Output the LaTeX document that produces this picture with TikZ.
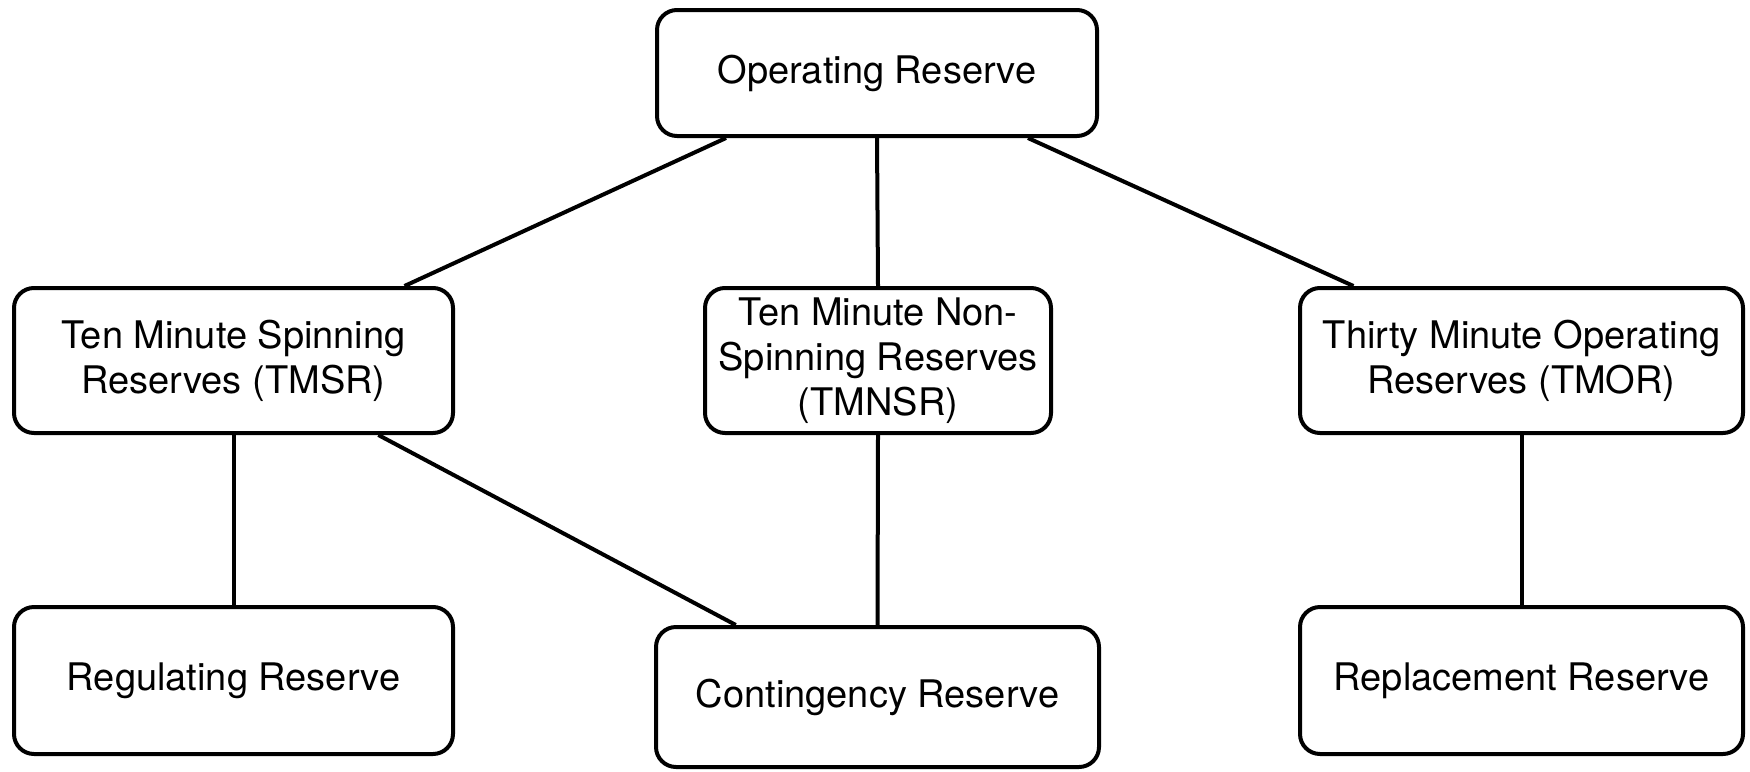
\documentclass[tikz,border=0pt]{standalone}
\usepackage{fontspec}
\setmainfont{TeX Gyre Heros}
\usetikzlibrary{calc}
\begin{document}
\begin{tikzpicture}[x=0.5pt,y=-0.5pt,
  box/.style={draw=black, line width=2pt, rounded corners=10pt, fill=white,
    align=center, inner sep=0pt,
    font=\fontsize{19pt}{22.5pt}\selectfont},
  link/.style={draw=black, line width=2pt}]
\useasboundingbox (0,0) rectangle (1750,771);
\node[box, minimum width=220pt, minimum height=63pt] (or) at (877,73) {Operating Reserve};
\node[box, minimum width=219.5pt, minimum height=72.5pt] (tmsr) at (233.5,360.5) {Ten Minute Spinning\\Reserves (TMSR)};
\node[box, minimum width=173pt, minimum height=72.5pt] (tmnsr) at (878,360.5) {Ten Minute Non-\\Spinning Reserves\\(TMNSR)};
\node[box, minimum width=221.5pt, minimum height=72.5pt] (tmor) at (1521.5,360.5) {Thirty Minute Operating\\Reserves (TMOR)};
\node[box, minimum width=219.5pt, minimum height=73.5pt] (reg) at (233.5,680.5) {Regulating Reserve};
\node[box, minimum width=221.5pt, minimum height=70pt] (cont) at (877.5,697) {Contingency Reserve};
\node[box, minimum width=221.5pt, minimum height=73.5pt] (repl) at (1521.5,680.5) {Replacement Reserve};
\draw[link] ($(or.south west)!0.16!(or.south east)$) -- ($(tmsr.north west)!0.886!(tmsr.north east)$);
\draw[link] (or.south) -- (tmnsr.north);
\draw[link] ($(or.south west)!0.84!(or.south east)$) -- ($(tmor.north west)!0.124!(tmor.north east)$);
\draw[link] (tmsr.south) -- (reg.north);
\draw[link] ($(tmsr.south west)!0.827!(tmsr.south east)$) -- ($(cont.north west)!0.183!(cont.north east)$);
\draw[link] (tmnsr.south) -- (cont.north);
\draw[link] (tmor.south) -- (repl.north);
\end{tikzpicture}
\end{document}
